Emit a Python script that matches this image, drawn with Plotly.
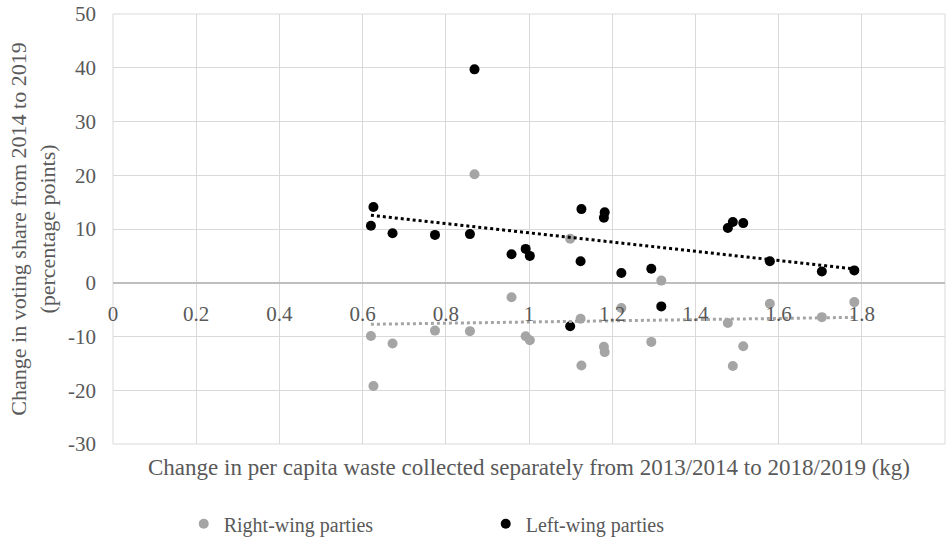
import numpy as np
import plotly.graph_objects as go

# Change in per capita waste collected separately (kg)
waste_change = [0.620, 0.626, 0.672, 0.774, 0.858, 0.869, 0.958, 0.992, 1.002, 1.099,
                1.124, 1.126, 1.180, 1.182, 1.222, 1.294, 1.318, 1.478, 1.490, 1.515,
                1.579, 1.704, 1.782]
# Change in voting share (percentage points)
left_wing = [10.6, 14.1, 9.2, 8.9, 9.05, 39.7, 5.3, 6.3, 5.0, -8.1,
             4.0, 13.7, 12.1, 13.1, 1.8, 2.6, -4.4, 10.2, 11.3, 11.1,
             4.0, 2.1, 2.3]
right_wing = [-9.9, -19.2, -11.3, -8.9, -9.0, 20.2, -2.7, -9.95, -10.7, 8.2,
              -6.7, -15.4, -11.9, -12.9, -4.7, -11.0, 0.4, -7.5, -15.5, -11.8,
              -3.9, -6.4, -3.6]

x_ticks = [0, 0.2, 0.4, 0.6, 0.8, 1, 1.2, 1.4, 1.6, 1.8, 2]
x_tick_labels = ["0", "0.2", "0.4", "0.6", "0.8", "1", "1.2", "1.4", "1.6", "1.8", "2"]
y_ticks = [-30, -20, -10, 0, 10, 20, 30, 40, 50]
y_tick_labels = ["-30", "-20", "-10", "0", "10", "20", "30", "40", "50"]

GRAY = "#a5a5a5"
GRID = "#d9d9d9"
FONT = "Liberation Serif"
TXT = "#595959"

x = np.array(waste_change)
xs = np.array([x.min(), x.max()])

fig = go.Figure()
fig.add_trace(go.Scatter(x=waste_change, y=right_wing, mode="markers",
                         name="Right-wing parties",
                         marker=dict(color=GRAY, size=10)))
fig.add_trace(go.Scatter(x=waste_change, y=left_wing, mode="markers",
                         name="Left-wing parties",
                         marker=dict(color="black", size=10)))
for ys, col in [(right_wing, GRAY), (left_wing, "black")]:
    b, a = np.polyfit(x, np.array(ys), 1)
    fig.add_trace(go.Scatter(x=xs, y=a + b * xs, mode="lines", showlegend=False,
                             line=dict(color=col, width=3, dash="dot"),
                             hoverinfo="skip"))

ymin, ymax = -30, 50
zero_pos = (0 - ymin) / (ymax - ymin)

fig.update_layout(
    width=946, height=544,
    margin=dict(l=113, r=1, t=14, b=91),
    plot_bgcolor="white", paper_bgcolor="white",
    font=dict(family=FONT, size=21, color=TXT),
    showlegend=True,
    legend=dict(orientation="h", x=0.085, xanchor="left", y=-0.14, yanchor="top",
                font=dict(family=FONT, size=20, color=TXT),
                entrywidth=257, itemwidth=30),
    xaxis=dict(range=[0, 2], tickvals=x_ticks, ticktext=x_tick_labels,
               showgrid=True, gridcolor=GRID, gridwidth=1,
               zeroline=False, showline=False, ticks="",
               anchor="free", position=zero_pos, ticklabelstandoff=16,
               tickfont=dict(family=FONT, size=21, color=TXT)),
    yaxis=dict(range=[ymin, ymax], tickvals=y_ticks, ticktext=y_tick_labels,
               showgrid=True, gridcolor=GRID, gridwidth=1,
               zeroline=True, zerolinecolor="#bfbfbf", zerolinewidth=1.5,
               showline=False, ticks="", ticklabelstandoff=16,
               tickfont=dict(family=FONT, size=21, color=TXT),
               title=dict(text="Change in voting share from 2014 to 2019<br>(percentage points)",
                          font=dict(family=FONT, size=22, color=TXT), standoff=6)),
    shapes=[dict(type="rect", xref="paper", yref="paper", x0=0, x1=1, y0=0, y1=1,
                 line=dict(color=GRID, width=1), layer="below")],
    annotations=[dict(text="Change in per capita waste collected separately from 2013/2014 to 2018/2019 (kg)",
                      xref="paper", yref="paper", x=(530 - 113) / 833, y=-0.022,
                      xanchor="center", yanchor="top", showarrow=False,
                      font=dict(family=FONT, size=23, color=TXT))],
)

fig.write_html("out.html")
